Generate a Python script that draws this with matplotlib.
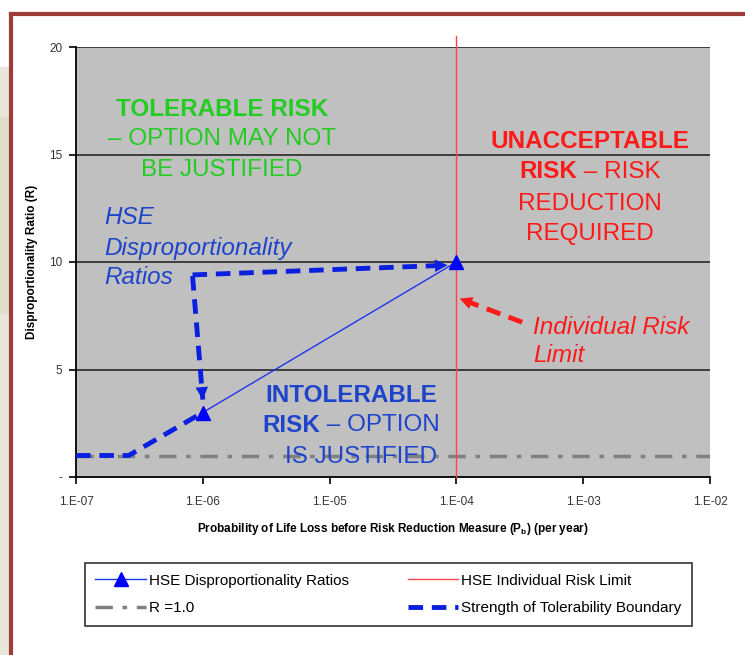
import matplotlib.pyplot as plt
from matplotlib.lines import Line2D
from matplotlib.patches import Rectangle

plt.rcParams['font.family'] = ['Liberation Sans', 'DejaVu Sans']

# data
x_ticks = [1e-7, 1e-6, 1e-5, 1e-4, 1e-3, 1e-2]
x_ticklabels = ["1.E-07", "1.E-06", "1.E-05", "1.E-04", "1.E-03", "1.E-02"]
y_ticks = [0, 5, 10, 15, 20]
y_ticklabels = ["-", "5", "10", "15", "20"]

hse_x = [1e-6, 1e-4]
hse_r = [3.0, 10.0]

limit_x = [1e-4, 1e-4]
limit_r = [0.0, 20.5]

r1_x = [1e-7, 1e-2]
r1_r = [1.0, 1.0]

bound_x = [1e-7, 2.6e-7, 1e-6]
bound_r = [1.0, 1.0, 3.0]

# dashed arrows (tail -> head)
arrow_down_x = [8.3e-7, 1.0e-6]
arrow_down_r = [9.35, 3.6]
arrow_right_x = [8.3e-7, 8.5e-5]
arrow_right_r = [9.4, 9.85]
arrow_red_x = [3.3e-4, 1.06e-4]
arrow_red_r = [7.2, 8.3]

W, H = 745, 655
blue = '#0a1fe0'
txt_blue = '#1f44cc'
green = '#22cc22'
red = '#ff1a1a'


def px(x, y):
    return x / W, 1 - y / H


fig = plt.figure(figsize=(W / 100, H / 100), dpi=100)
fig.patch.set_facecolor('white')

# slide background bits on the left
fig.add_artist(Rectangle((0, 0), 10 / W, 1 - 67 / H, transform=fig.transFigure,
                         color='#e8e6d9', zorder=0))
fig.add_artist(Rectangle(px(0, 313), 10 / W, 196 / H, transform=fig.transFigure,
                         color='#e0ddc8', zorder=0))
fig.add_artist(Line2D([11 / W, 1], [1 - 14 / H] * 2, transform=fig.transFigure,
                      color='#9e3b3b', lw=3))
fig.add_artist(Line2D([11 / W] * 2, [0, 1 - 14 / H], transform=fig.transFigure,
                      color='#9e3b3b', lw=3))

ax = fig.add_axes([76 / W, 1 - 477 / H, (710 - 76) / W, (477 - 47) / H])
ax.set_facecolor('#c0c0c0')
ax.set_xscale('log')
ax.set_xlim(1e-7, 1e-2)
ax.set_ylim(0, 20)

for r in [5, 10, 15, 20]:
    ax.axhline(r, color='#333333', lw=1.3, zorder=1)

ax.plot(r1_x, r1_r, color='#808080', lw=2.5, linestyle=(0, (5, 2.8, 1.3, 2.8)),
        label='R =1.0', zorder=2)
ax.plot(limit_x, limit_r, color='#ff4545', lw=1, clip_on=False,
        label='HSE Individual Risk Limit', zorder=3)
ax.plot(hse_x, hse_r, color='#2233ee', lw=1, marker='^', markersize=10,
        markerfacecolor='#0000ff', markeredgecolor='#0000ff',
        label='HSE Disproportionality Ratios', zorder=5)
ax.plot(bound_x, bound_r, color=blue, lw=3.5, linestyle=(0, (3, 1.8)),
        label='Strength of Tolerability Boundary', zorder=4)

for ax_x, ax_r, col in [(arrow_down_x, arrow_down_r, blue),
                        (arrow_right_x, arrow_right_r, blue),
                        (arrow_red_x, arrow_red_r, red)]:
    ax.plot(ax_x, ax_r, color=col, lw=3.5, linestyle=(0, (3, 1.8)), zorder=4)
    ax.annotate('', xy=(ax_x[1], ax_r[1]), xytext=(ax_x[0], ax_r[0]),
                arrowprops=dict(arrowstyle='-|>,head_length=0.9,head_width=0.45',
                                color=col, lw=0, shrinkA=0, shrinkB=0), zorder=4)

ax.set_xticks(x_ticks)
ax.set_xticklabels(x_ticklabels)
ax.minorticks_off()
ax.set_yticks(y_ticks)
ax.set_yticklabels(y_ticklabels)
ax.tick_params(axis='both', direction='out', length=5, width=1.2,
               labelsize=8.5, colors='black', labelcolor='#333333', pad=5)
ax.tick_params(axis='x', pad=9)
for s in ['top', 'right']:
    ax.spines[s].set_visible(False)
for s in ['left', 'bottom']:
    ax.spines[s].set_linewidth(1.3)

ax.set_xlabel('Probability of Life Loss before Risk Reduction Measure (P$_\\mathregular{b}$) (per year)',
              fontsize=8.5, fontweight='bold', labelpad=9)
ax.set_ylabel('Disproportionality Ratio (R)', fontsize=8.5, fontweight='bold', labelpad=8)

fs = 17.5
# tolerable risk text
fig.text(*px(222, 110), 'TOLERABLE RISK', color=green, fontsize=fs, fontweight='bold',
         ha='center', va='center')
fig.text(*px(222, 139), '– OPTION MAY NOT', color=green, fontsize=fs, ha='center', va='center')
fig.text(*px(222, 170), 'BE JUSTIFIED', color=green, fontsize=fs, ha='center', va='center')

# unacceptable risk text
fig.text(*px(590, 142), 'UNACCEPTABLE', color=red, fontsize=fs, fontweight='bold',
         ha='center', va='center')
fig.text(*px(577, 172), 'RISK', color=red, fontsize=fs, fontweight='bold', ha='right', va='center')
fig.text(*px(577, 172), ' – RISK', color=red, fontsize=fs, ha='left', va='center')
fig.text(*px(590, 204), 'REDUCTION', color=red, fontsize=fs, ha='center', va='center')
fig.text(*px(590, 234), 'REQUIRED', color=red, fontsize=fs, ha='center', va='center')

# HSE ratios label
fig.text(*px(104, 218), 'HSE', color=txt_blue, fontsize=fs, style='italic', ha='left', va='center')
fig.text(*px(104, 248), 'Disproportionality', color=txt_blue, fontsize=fs, style='italic',
         ha='left', va='center')
fig.text(*px(104, 278), 'Ratios', color=txt_blue, fontsize=fs, style='italic', ha='left', va='center')

# intolerable risk text
fig.text(*px(437, 395), 'INTOLERABLE', color=txt_blue, fontsize=fs, fontweight='bold',
         ha='right', va='center')
fig.text(*px(320, 425), 'RISK', color=txt_blue, fontsize=fs, fontweight='bold', ha='right', va='center')
fig.text(*px(320, 425), ' – OPTION', color=txt_blue, fontsize=fs, ha='left', va='center')
fig.text(*px(437, 457), 'IS JUSTIFIED', color=txt_blue, fontsize=fs, ha='right', va='center')

# individual risk limit label
fig.text(*px(533, 328), 'Individual Risk', color=red, fontsize=fs, style='italic', ha='left', va='center')
fig.text(*px(533, 356), 'Limit', color=red, fontsize=fs, style='italic', ha='left', va='center')

h, l = ax.get_legend_handles_labels()
order = [2, 0, 1, 3]
leg = fig.legend([h[i] for i in order], [l[i] for i in order], ncol=2, loc='center',
                 bbox_to_anchor=(77 / W, 1 - 627 / H, 623 / W, 65 / H), mode='expand',
                 fontsize=11, frameon=True, fancybox=False, shadow=False,
                 edgecolor='black', handlelength=3.3, handletextpad=0.2,
                 labelspacing=0.9, borderpad=0.7)
leg.get_frame().set_linewidth(1.2)

fig.savefig('out.png', dpi=100)
